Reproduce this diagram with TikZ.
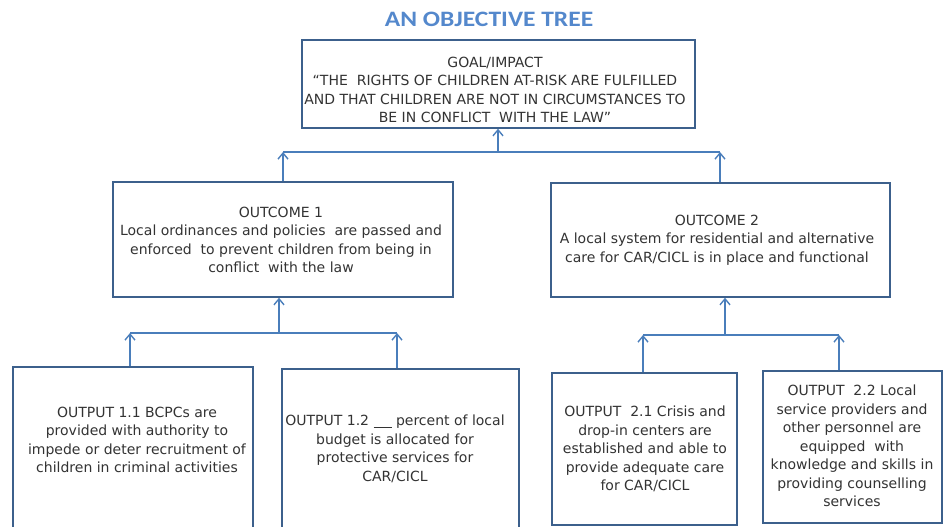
\documentclass[tikz,border=0pt]{standalone}
\usepackage{fontspec}
\setmainfont{DejaVu Sans}
\newfontfamily\titlefont[FakeStretch=1.16]{Carlito}
\usetikzlibrary{arrows.meta}
\definecolor{boxline}{RGB}{60,96,140}
\definecolor{linkline}{RGB}{74,126,187}
\definecolor{titleblue}{RGB}{84,136,204}
\begin{document}
\begin{tikzpicture}[x=1pt,y=-1pt,
  box/.style={draw=boxline,line width=1.5pt,fill=white,rectangle,inner sep=0pt},
  txt/.style={align=center,font=\fontsize{14}{18.5}\selectfont,text=black!80,inner sep=0pt},
  link/.style={draw=linkline,line width=1.6pt},
  up/.style={link,-{Straight Barb[length=6pt,width=10pt,line width=1.4pt]}}]
\useasboundingbox (0,0) rectangle (946,527);
\clip (0,0) rectangle (946,527);

% title
\node[font=\titlefont\fontsize{22}{24}\selectfont\bfseries,text=titleblue] (title) at (489,19) {AN OBJECTIVE TREE};

% boxes
\node[box,minimum width=393pt,minimum height=88pt]  (goal)  at (498.5,84) {};
\node[box,minimum width=340pt,minimum height=115pt] (oc1)   at (283,239.5) {};
\node[box,minimum width=339pt,minimum height=114pt] (oc2)   at (720.5,240) {};
\node[box,minimum width=240pt,minimum height=173pt] (op11)  at (133,453.5) {};
\node[box,minimum width=237pt,minimum height=171pt] (op12)  at (400.5,454.5) {};
\node[box,minimum width=185pt,minimum height=152pt] (op21)  at (644.5,449) {};
\node[box,minimum width=179pt,minimum height=152pt] (op22)  at (852.5,447) {};

% texts
\node[txt] (goaltxt) at (495,90) {GOAL/IMPACT\\“THE\ \ RIGHTS OF CHILDREN AT-RISK ARE FULFILLED\\AND THAT CHILDREN ARE NOT IN CIRCUMSTANCES TO\\BE IN CONFLICT\ \ WITH THE LAW”};
\node[txt] (oc1txt) at (281,240) {OUTCOME 1\\Local ordinances and policies\ \ are passed and\\enforced\ \ to prevent children from being in\\conflict\ \ with the law};
\node[txt] (oc2txt) at (717,240) {OUTCOME 2\\A local system for residential and alternative\\care for CAR/CICL is in place and functional};
\node[txt] (op11txt) at (137,440) {OUTPUT 1.1 BCPCs are\\provided with authority to\\impede or deter recruitment of\\children in criminal activities};
\node[txt] (op12txt) at (395,449) {OUTPUT 1.2 \rule[-1.5pt]{18pt}{0.8pt} percent of local\\budget is allocated for\\protective services for\\CAR/CICL};
\node[txt] (op21txt) at (645,449) {OUTPUT\ \ 2.1 Crisis and\\drop-in centers are\\established and able to\\provide adequate care\\for CAR/CICL};
\node[txt] (op22txt) at (852,446) {OUTPUT\ \ 2.2 Local\\service providers and\\other personnel are\\equipped\ \ with\\knowledge and skills in\\providing counselling\\services};

% junction points
\coordinate (jg)  at (498,152);
\coordinate (jg1) at (283,152);
\coordinate (jg2) at (720,152);
\coordinate (j1)  at (279,333);
\coordinate (j11) at (130,333);
\coordinate (j12) at (397,333);
\coordinate (j2)  at (725,335);
\coordinate (j21) at (643,335);
\coordinate (j22) at (839,335);

% connectors: outcomes to goal
\draw[link] (jg1) -- (jg2);
\draw[up] (jg) -- (jg |- goal.south);
\draw[up] (oc1.north -| jg1) -- (jg1);
\draw[up] (oc2.north -| jg2) -- (jg2);

% connectors: outputs to outcome 1
\draw[link] (j11) -- (j12);
\draw[up] (j1) -- (j1 |- oc1.south);
\draw[up] (op11.north -| j11) -- (j11);
\draw[up] (op12.north -| j12) -- (j12);

% connectors: outputs to outcome 2
\draw[link] (j21) -- (j22);
\draw[up] (j2) -- (j2 |- oc2.south);
\draw[up] (op21.north -| j21) -- (j21);
\draw[up] (op22.north -| j22) -- (j22);
\end{tikzpicture}
\end{document}
